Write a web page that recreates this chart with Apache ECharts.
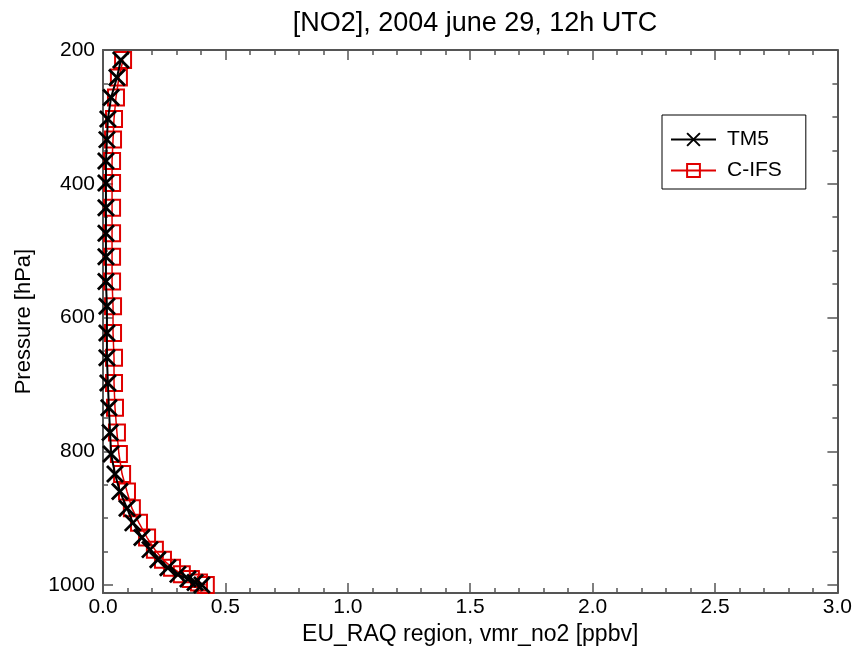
<!DOCTYPE html>
<html>
<head>
<meta charset="utf-8">
<script src="https://cdn.jsdelivr.net/npm/echarts@6/dist/echarts.min.js"></script>
<style>
html,body{margin:0;padding:0;background:#fff;}
#chart{width:855px;height:651px;}
</style>
</head>
<body>
<div id="chart"></div>
<script>
// Pressure levels [hPa]
const pressure = [215, 241, 271, 303, 334, 366, 399, 436, 474, 509, 546, 583, 623, 660, 698, 735, 772, 804, 834, 860, 885, 907, 929, 947, 962, 974, 984, 991, 996, 1000];
// TM5 NO2 vmr [ppbv]
const tm5 = [0.073, 0.057, 0.033, 0.020, 0.016, 0.012, 0.012, 0.012, 0.012, 0.012, 0.012, 0.016, 0.016, 0.016, 0.020, 0.024, 0.029, 0.033, 0.049, 0.069, 0.098, 0.122, 0.159, 0.192, 0.224, 0.265, 0.306, 0.347, 0.376, 0.404];
// C-IFS NO2 vmr [ppbv]
const cifs = [0.082, 0.065, 0.053, 0.045, 0.041, 0.037, 0.037, 0.037, 0.037, 0.037, 0.037, 0.041, 0.041, 0.045, 0.045, 0.049, 0.057, 0.065, 0.078, 0.098, 0.118, 0.147, 0.180, 0.212, 0.245, 0.282, 0.322, 0.359, 0.392, 0.420];
const seriesNames = ['TM5', 'C-IFS'];
const xTicks = [0.0, 0.5, 1.0, 1.5, 2.0, 2.5, 3.0];
const yTicks = [200, 400, 600, 800, 1000];

const FONT = 'Liberation Sans';
const axisColor = '#555';
const xSymbol = 'path://M0,0L10,10M10,0L0,10';

const chart = echarts.init(document.getElementById('chart'), null, {renderer: 'canvas'});

function xAx(pos, show) {
  return {
    type: 'value', position: pos, min: xTicks[0], max: xTicks[xTicks.length-1], interval: 0.5,
    name: show ? 'EU_RAQ region, vmr_no2 [ppbv]' : '',
    nameLocation: 'middle', nameGap: 22,
    nameTextStyle: {fontFamily: FONT, fontSize: 23, color: '#000'},
    axisLine: {show: true, onZero: false, lineStyle: {color: axisColor, width: 2}},
    axisTick: {show: true, inside: true, length: 10, lineStyle: {color: axisColor, width: 1.5}},
    minorTick: {show: true, splitNumber: 5, length: 5, lineStyle: {color: axisColor, width: 1.5}},
    axisLabel: {show: show, margin: 4, fontFamily: FONT, fontSize: 21, color: '#000',
      formatter: v => v.toFixed(1)},
    splitLine: {show: false}
  };
}
function yAx(pos, show) {
  return {
    type: 'value', position: pos, inverse: true, min: yTicks[0], max: 1012, interval: 200,
    name: show ? 'Pressure [hPa]' : '',
    nameLocation: 'middle', nameGap: 68, nameRotate: 90,
    nameTextStyle: {fontFamily: FONT, fontSize: 22, color: '#000'},
    axisLine: {show: true, onZero: false, lineStyle: {color: axisColor, width: 2}},
    axisTick: {show: true, inside: true, length: 10, lineStyle: {color: axisColor, width: 1.5}},
    minorTick: {show: true, splitNumber: 4, length: 5, lineStyle: {color: axisColor, width: 1.5}},
    axisLabel: {show: show, margin: 8, fontFamily: FONT, fontSize: 21, color: '#000',
      showMaxLabel: false, formatter: v => String(v)},
    splitLine: {show: false}
  };
}

chart.setOption({
  animation: false,
  backgroundColor: '#fff',
  title: {
    text: '[NO2], 2004 june 29, 12h UTC',
    left: 470, top: 5, textAlign: 'center',
    textStyle: {fontFamily: FONT, fontSize: 27, fontWeight: 'normal', color: '#000'}
  },
  grid: {left: 103, right: 17, top: 50, bottom: 50, containLabel: false},
  xAxis: [xAx('bottom', true), xAx('top', false)],
  yAxis: [yAx('left', true), yAx('right', false)],
  legend: {
    orient: 'vertical', left: 662, top: 115,
    backgroundColor: '#fff', borderColor: '#000', borderWidth: 1, borderRadius: 0,
    padding: [14, 24, 8, 8], itemWidth: 45, itemHeight: 16, itemGap: 10,
    textStyle: {fontFamily: FONT, fontSize: 21, color: '#000', padding: [0, 0, 0, 6]},
    data: seriesNames
  },
  series: [
    {
      name: seriesNames[1], type: 'line', xAxisIndex: 0, yAxisIndex: 0,
      data: cifs.map((v, i) => [v, pressure[i]]),
      symbol: 'rect', symbolSize: 16,
      lineStyle: {color: '#e00000', width: 1.5},
      itemStyle: {color: 'rgba(0,0,0,0)', borderColor: '#e00000', borderWidth: 2},
      z: 2
    },
    {
      name: seriesNames[0], type: 'line', xAxisIndex: 0, yAxisIndex: 0,
      data: tm5.map((v, i) => [v, pressure[i]]),
      symbol: xSymbol, symbolSize: 16,
      lineStyle: {color: '#000', width: 2},
      itemStyle: {color: 'rgba(0,0,0,0)', borderColor: '#000', borderWidth: 2.8},
      z: 3
    }
  ]
});
</script>
</body>
</html>
